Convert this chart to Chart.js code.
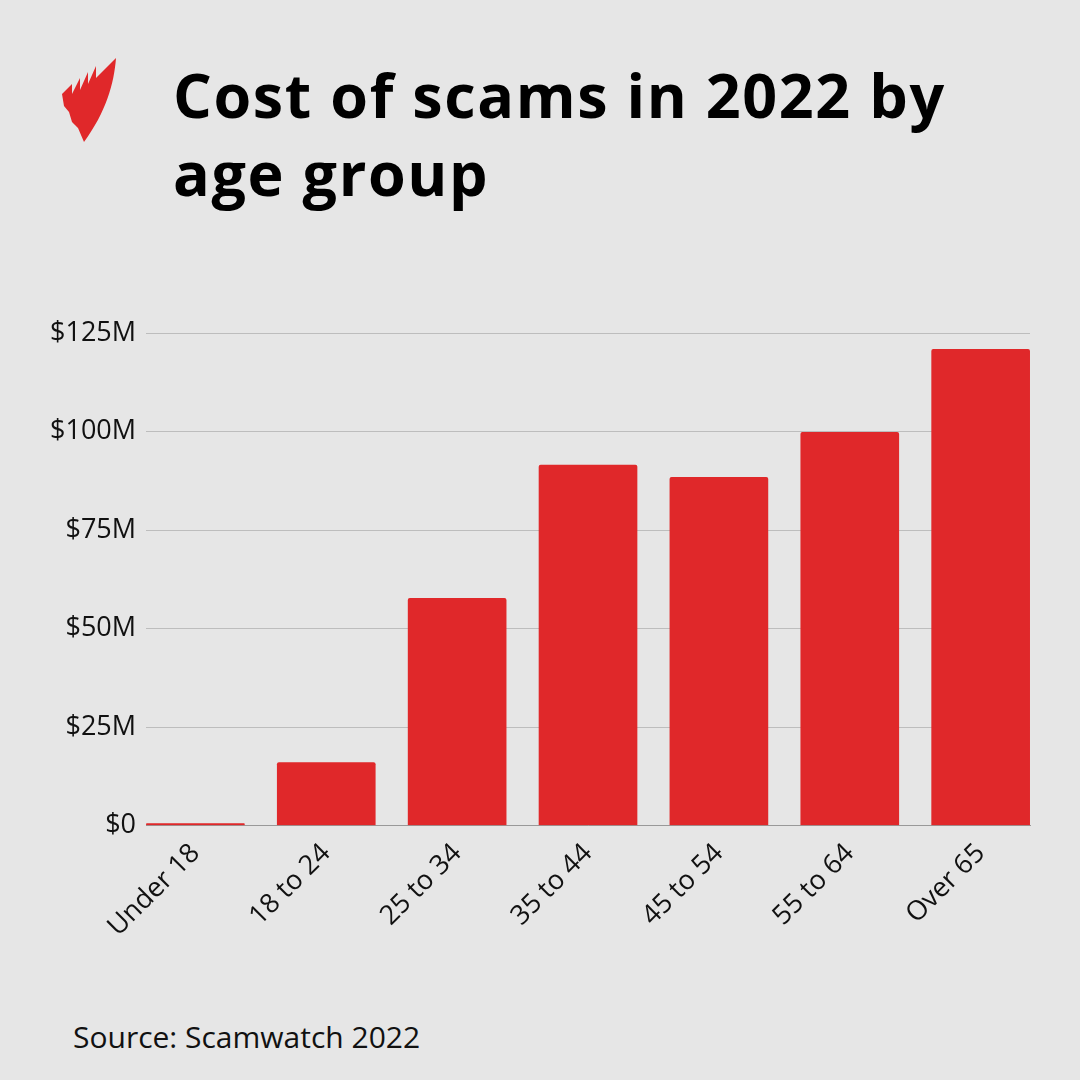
<!DOCTYPE html>
<html><head><meta charset="utf-8">
<script src="https://cdn.jsdelivr.net/npm/chart.js@4"></script>
<style>
body{margin:0;background:#e6e6e6;width:1080px;height:1080px;overflow:hidden;position:relative;font-family:"Open Sans",sans-serif}
#title{position:absolute;left:173px;top:56px;font-size:61px;font-weight:700;line-height:78px;color:#000;letter-spacing:1.6px}
#src{position:absolute;left:73px;top:1016px;font-size:30px;color:#111}
#logo{position:absolute;left:58px;top:52px}
#wrap{position:absolute;left:0;top:307px;width:1080px;height:640px}
</style></head><body>
<svg id="logo" width="70" height="95" viewBox="0 0 70 95">
<path fill="#e0282a" d="M26 90 L20 76 L14 70 L11 60 L6 54 L4 42 L14 32 L14 42 L22 26 L22 38 L30 20 L30 32 L38 14 L38 26 L58 6 C56 32 48 60 26 90 Z"/>
</svg>
<div id="title">Cost of scams in 2022 by<br>age group</div>
<div id="wrap"><canvas id="c"></canvas></div>
<div id="src">Source: Scamwatch 2022</div>
<script>
const categories=["Under 18","18 to 24","25 to 34","35 to 44","45 to 54","55 to 64","Over 65"];
const values=[0.5,16,57.7,91.5,88.4,99.8,120.9];
const tickValues=[0,25,50,75,100,125];
new Chart(document.getElementById('c'),{type:'bar',
data:{datasets:[{data:values.map((v,i)=>({x:i,y:v})),backgroundColor:'#e0282a',barThickness:98,borderRadius:2}]},
options:{responsive:true,maintainAspectRatio:false,animation:false,
layout:{padding:{left:40,right:50,top:15}},
plugins:{legend:{display:false},tooltip:{enabled:false}},
scales:{
x:{type:'linear',offset:false,min:-0.377,max:6.377,afterBuildTicks:a=>{a.ticks=categories.map((c,i)=>({value:i}))},grid:{display:false},border:{color:'#999'},
ticks:{color:'#111',font:{family:'Open Sans',size:27},maxRotation:45,minRotation:45,padding:4,callback:v=>categories[v]}},
y:{min:0,max:125,afterBuildTicks:a=>{a.ticks=tickValues.map(v=>({value:v}))},grid:{color:'#bdbdbd',drawTicks:false},border:{display:false},
ticks:{color:'#111',padding:10,font:{family:'Open Sans',size:27},callback:v=>v===0?'$0':'$'+v+'M'}}}}});
</script></body></html>
